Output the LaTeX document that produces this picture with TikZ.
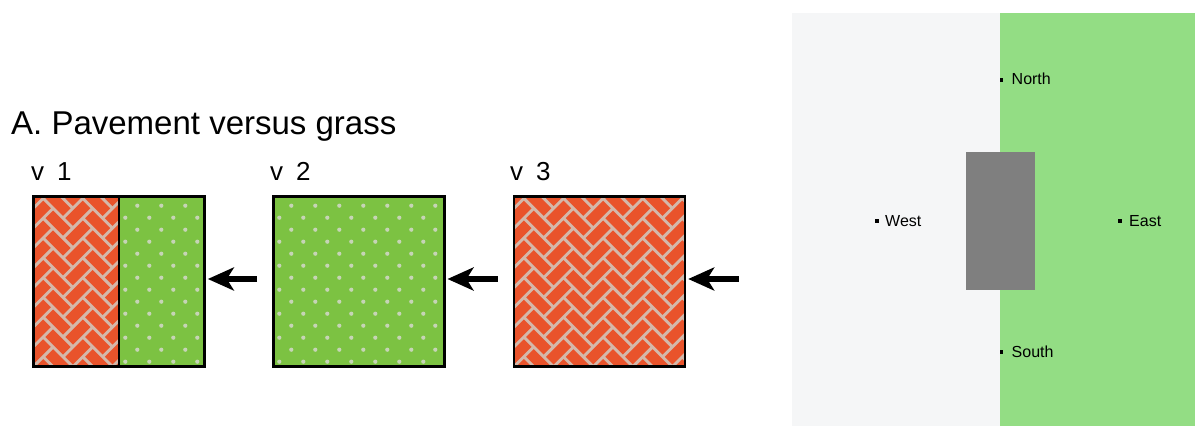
\documentclass[tikz,border=0pt]{standalone}
\usepackage{fontspec}
\setmainfont{Liberation Sans}
\usetikzlibrary{arrows.meta,calc}
\definecolor{brick}{HTML}{E9532B}
\definecolor{mortar}{HTML}{D4B8AA}
\definecolor{grass}{HTML}{7CC242}
\definecolor{grassdot}{HTML}{C6D4B6}
\definecolor{pave}{HTML}{F5F6F7}
\definecolor{lawn}{HTML}{93DD84}
\definecolor{bldg}{HTML}{7F7F7F}
\newcommand\vfont{\fontsize{26}{30}\selectfont\spaceskip 13pt\relax}
\newcommand\herringfill[4]{%
  \begin{scope}
    \clip (#1,#2) rectangle (#3,#4);
    \fill[mortar] (#1,#2) rectangle (#3,#4);
    \begin{scope}[shift={(#1,#2)},rotate=45]
      \foreach \a in {-7,...,16}{\foreach \b in {-4,...,9}{
        \pgfmathsetmacro\X{(\a+2*\b)*14}
        \pgfmathsetmacro\Y{(\a-2*\b)*14}
        \fill[brick] ({\X+1.6},{\Y+1.6}) rectangle ({\X+26.4},{\Y+12.4});
        \fill[brick] ({\X+29.6},{\Y-12.4}) rectangle ({\X+40.4},{\Y+12.4});
      }}
    \end{scope}
  \end{scope}}
\newcommand\grassfill[4]{%
  \begin{scope}
    \clip (#1,#2) rectangle (#3,#4);
    \fill[grass] (#1,#2) rectangle (#3,#4);
    \foreach \j in {0,...,15}{\foreach \i in {0,...,8}{
      \fill[grassdot] ({#1+6+\i*24+mod(\j,2)*12},{#2+5+\j*12}) circle (2.1);
    }}
  \end{scope}}
\tikzset{
  box/.style={draw=black,line width=2.4pt,inner sep=0pt,minimum width=171pt,minimum height=170pt},
  arr/.style={line width=5.5pt,-{Stealth[length=26pt,width=23pt,inset=7pt]},shorten >=2pt},
  vlbl/.style={anchor=base west,inner sep=0pt,font=\vfont},
  ptdot/.style={fill=black,inner sep=0pt,minimum size=3.2pt},
  ptlbl/.style={anchor=base west,inner sep=0pt,font=\fontsize{16}{19}\selectfont}
}
\begin{document}
\begin{tikzpicture}[x=1pt,y=1pt]
\useasboundingbox (0,0) rectangle (1195,426);
% title
\node[anchor=base west,inner sep=0pt,font=\fontsize{33}{38}\selectfont] (title) at (11,291) {A. Pavement versus grass};
% v1
\herringfill{33.3}{59.3}{119.3}{229.3}
\grassfill{119.3}{59.3}{205}{229.3}
\node[box] (b1) at (119.15,144.3) {};
\draw[line width=1.8pt] (119.3,0 |- b1.north) -- (119.3,0 |- b1.south);
\node[vlbl] (l1) at (31,245) {v 1};
% v2
\grassfill{273.3}{59.3}{444.3}{229.3}
\node[box] (b2) at (358.8,144.3) {};
\node[vlbl] (l2) at (270,245) {v 2};
% v3
\herringfill{514}{59.3}{685}{229.3}
\node[box] (b3) at (599.5,144.3) {};
\node[vlbl] (l3) at (510,245) {v 3};
% arrows
\coordinate (t1) at (257,147);
\coordinate (t2) at (497.5,147);
\coordinate (t3) at (738.5,147);
\draw[arr] (t1) -- (b1.east |- t1);
\draw[arr] (t2) -- (b2.east |- t2);
\draw[arr] (t3) -- (b3.east |- t3);
% right panel
\fill[pave] (792,0) rectangle (999.7,413);
\fill[lawn] (999.7,0) rectangle (1195,413);
\node[fill=bldg,inner sep=0pt,minimum width=69pt,minimum height=138pt] (house) at (1000.3,205) {};
\node[ptdot] (N) at (1001.7,346) {};
\node[ptlbl] (Nl) at (1011.5,341) {North};
\node[ptdot] (W) at (877,205) {};
\node[ptlbl] (Wl) at (885,199.3) {West};
\node[ptdot] (E) at (1120,205) {};
\node[ptlbl] (El) at (1129,199.3) {East};
\node[ptdot] (S) at (1001.7,74) {};
\node[ptlbl] (Sl) at (1011.5,68.7) {South};
\end{tikzpicture}
\end{document}
